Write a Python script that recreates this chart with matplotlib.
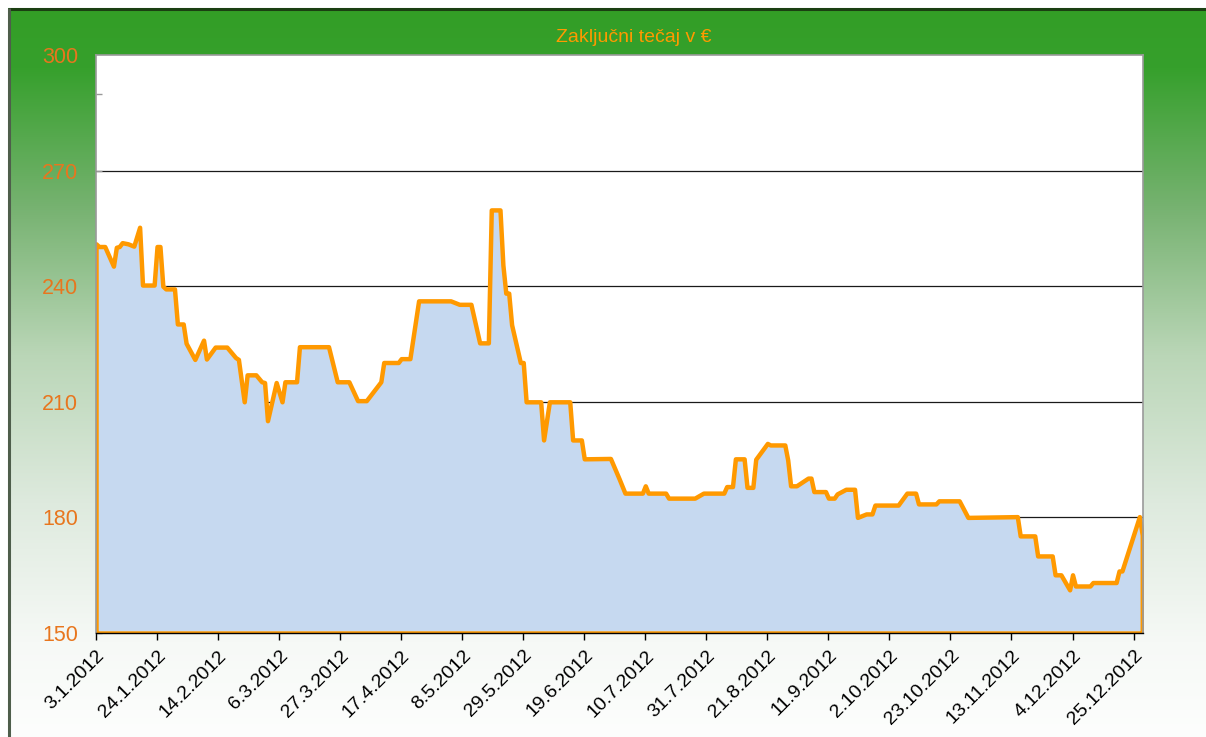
import datetime as dt
import numpy as np
import matplotlib
matplotlib.use('Agg')
import matplotlib.pyplot as plt

plt.rcParams['font.family'] = ['Liberation Sans', 'DejaVu Sans']

# closing prices (day.month, 2012)
dates = ['3.1', '4.1', '6.1', '9.1', '10.1', '11.1', '12.1', '14.1', '16.1', '18.1',
         '19.1', '23.1', '24.1', '25.1', '26.1', '27.1', '30.1', '31.1', '2.2', '3.2',
         '6.2', '9.2', '10.2', '13.2', '17.2', '20.2', '21.2', '23.2', '24.2', '27.2',
         '29.2', '1.3', '2.3', '5.3', '7.3', '8.3', '12.3', '13.3', '23.3', '26.3',
         '30.3', '2.4', '5.4', '10.4', '11.4', '16.4', '17.4', '20.4', '23.4', '4.5',
         '7.5', '11.5', '14.5', '17.5', '18.5', '21.5', '22.5', '23.5', '24.5', '25.5',
         '28.5', '29.5', '30.5', '4.6', '5.6', '7.6', '14.6', '15.6', '18.6', '19.6',
         '28.6', '1.7', '3.7', '9.7', '10.7', '11.7', '17.7', '18.7', '27.7', '30.7',
         '6.8', '7.8', '9.8', '10.8', '13.8', '14.8', '16.8', '17.8', '21.8', '22.8',
         '27.8', '28.8', '29.8', '31.8', '4.9', '5.9', '6.9', '10.9', '11.9', '13.9',
         '14.9', '17.9', '20.9', '21.9', '24.9', '26.9', '27.9', '5.10', '8.10', '11.10',
         '12.10', '18.10', '19.10', '26.10', '29.10', '15.11', '16.11', '21.11', '22.11', '27.11',
         '28.11', '30.11', '3.12', '4.12', '5.12', '10.12', '11.12', '19.12', '20.12', '21.12',
         '27.12', '28.12']
prices = [251.0, 250.3, 250.3, 245.2, 250.1, 250.3, 251.3, 251.0, 250.4, 255.3,
          240.3, 240.3, 250.3, 250.3, 240.0, 239.3, 239.3, 230.2, 230.2, 225.2,
          221.0, 226.0, 221.1, 224.2, 224.2, 221.5, 221.0, 210.0, 217.0, 217.0,
          215.2, 215.0, 205.1, 215.0, 210.0, 215.2, 215.2, 224.3, 224.3, 215.2,
          215.2, 210.3, 210.3, 215.2, 220.2, 220.2, 221.2, 221.2, 236.2, 236.2,
          235.3, 235.3, 225.3, 225.3, 259.8, 259.8, 245.5, 238.2, 238.2, 230.0,
          220.2, 220.2, 210.0, 210.0, 200.1, 210.0, 210.0, 200.1, 200.1, 195.2,
          195.3, 190.0, 186.3, 186.3, 188.2, 186.3, 186.3, 185.0, 185.0, 186.3,
          186.3, 188.0, 188.0, 195.2, 195.2, 187.8, 187.8, 195.1, 199.2, 198.8,
          198.8, 194.9, 188.2, 188.2, 190.2, 190.2, 186.7, 186.7, 185.0, 185.0,
          186.1, 187.3, 187.3, 180.0, 180.9, 180.9, 183.2, 183.2, 186.3, 186.3,
          183.5, 183.5, 184.3, 184.3, 180.0, 180.2, 175.2, 175.2, 170.0, 170.0,
          165.1, 165.1, 161.2, 165.1, 162.2, 162.2, 163.1, 163.1, 166.1, 166.1,
          180.2, 175.4]

tick_dates = ['3.1.2012', '24.1.2012', '14.2.2012', '6.3.2012', '27.3.2012', '17.4.2012',
              '8.5.2012', '29.5.2012', '19.6.2012', '10.7.2012', '31.7.2012', '21.8.2012',
              '11.9.2012', '2.10.2012', '23.10.2012', '13.11.2012', '4.12.2012', '25.12.2012']
y_labels = [150, 180, 210, 240, 270, 300]
y_small_ticks = [150, 170, 190, 210, 230, 250, 270, 290]
grid_values = [180, 210, 240, 270]


def to_date(s, year=2012):
    parts = s.split('.')
    return dt.date(year, int(parts[1]), int(parts[0]))


x = [to_date(d) for d in dates]
xt = [dt.datetime.strptime(t, '%d.%m.%Y').date() for t in tick_dates]

W, H = 1206, 737
fig = plt.figure(figsize=(W / 100, H / 100), dpi=100)

# green to white background
bg = fig.add_axes([0, 0, 1, 1], zorder=-5)
bg.set_xlim(0, W)
bg.set_ylim(H, 0)
bg.axis('off')
stop_y = [0, 60, 200, 350, 500, 640, 737]
stop_c = [(51, 158, 38), (54, 160, 44), (118, 178, 112), (186, 214, 183),
          (222, 234, 222), (246, 249, 246), (253, 254, 253)]
rows = np.arange(H)
grad = np.stack([np.interp(rows, stop_y, [c[i] for c in stop_c]) for i in range(3)], axis=-1) / 255.0
bg.imshow(grad[:, None, :], extent=(8, W, H, 8), aspect='auto', interpolation='bilinear')
bg.plot([8, W], [9, 9], color='#1b3f12', lw=2.2, solid_capstyle='butt')
bg.plot([9, 9], [8, H], color='#4e5e4b', lw=2.2, solid_capstyle='butt')

ax = fig.add_axes([96 / W, 1 - 633 / H, (1143 - 96) / W, (633 - 55) / H])
ax.set_facecolor('white')

for g in grid_values:
    ax.axhline(g, color='#1a1a1a', lw=0.9, zorder=0.5)

ax.fill_between(x, prices, 150, facecolor='#C6D9F0', edgecolor='#FF9900',
                linewidth=3.2, zorder=2)

ax.set_xlim(dt.datetime(2012, 1, 3), dt.datetime(2012, 12, 28, 6))
ax.set_ylim(150, 300)

ax.set_yticks(y_labels)
ax.set_yticklabels([str(v) for v in y_labels])
ax.set_yticks(y_small_ticks, minor=True)
ax.yaxis.remove_overlapping_locs = False
ax.tick_params(axis='y', which='major', length=0, pad=13, labelsize=15.5, labelcolor='#E8761E')
ax.tick_params(axis='y', which='minor', direction='in', length=4, width=1, color='#999999')

ax.set_xticks(xt)
ax.set_xticklabels(['%d.%d.%d' % (d.day, d.month, d.year) for d in xt],
                   rotation=45, ha='right', va='top', rotation_mode='anchor', fontsize=14)
ax.tick_params(axis='x', direction='out', length=5, width=1, color='black', pad=5)

for side in ['left', 'top', 'right']:
    ax.spines[side].set_color('#9a9a9a')
    ax.spines[side].set_linewidth(1.2)
ax.spines['bottom'].set_color('black')
ax.spines['bottom'].set_linewidth(1)

fig.text(634 / W, 1 - 38 / H, 'Zaključni tečaj v €', color='#FF9900', fontsize=14,
         ha='center', va='center')

fig.savefig('out.png', dpi=100)
